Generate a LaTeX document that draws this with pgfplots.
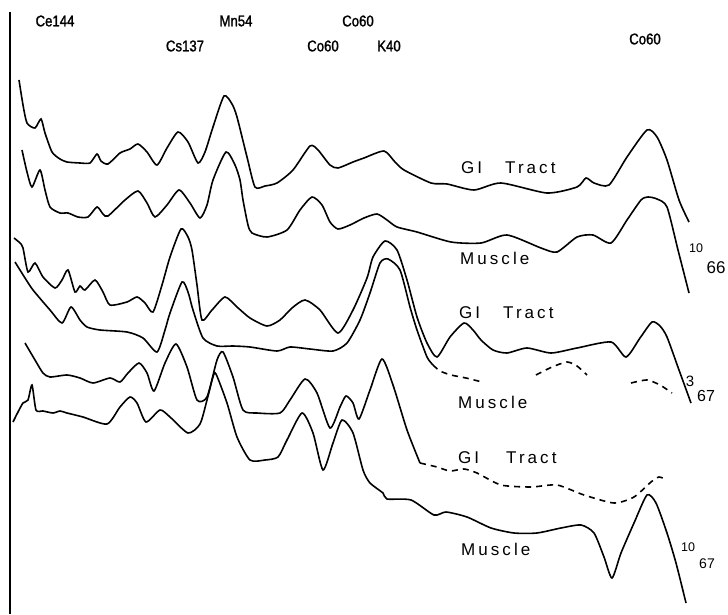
\documentclass[border=0pt]{standalone}
\usepackage{fontspec}
\setmainfont{Liberation Sans}
\newfontfamily\spaced[LetterSpace=18]{Liberation Sans}
\newfontfamily\narrow[FakeStretch=0.85,FakeBold=1.5]{Liberation Sans}
\usepackage{pgfplots}
\pgfplotsset{compat=1.18}
\begin{document}
\begin{tikzpicture}
\begin{axis}[width=728pt,height=614pt,scale only axis,axis lines=none,
  xmin=0,xmax=728,ymin=0,ymax=614,y dir=reverse,clip=false,
  cycle list={black,solid\\},no markers,
  every axis plot post/.append style={black,line width=1.6pt,smooth,tension=0.4}]
\addplot[draw=none] coordinates {(0,0) (728,614)};
% vertical axis line
\addplot[line width=2pt] coordinates {(10,12) (10,614)};
% curve 1 GI Tract 10/66
\addplot coordinates {(19,80) (23,105) (27,123) (35,128) (41,119) (45,133) (52,152) (60,159) (67,162) (80,163) (90,163) (97,154) (101,161) (108,164) (120,153) (130,149) (138,144) (147,152) (157,165) (167,148) (178,132) (188,142) (198,163) (205,152) (213,127) (224,96) (232,104) (237,117) (247,157) (255,187) (265,186) (277,183) (293,170) (310,146) (318,150) (330,165) (338,168) (353,162) (364,158) (384,151) (395,162) (404,170) (431,183) (447,184) (474,190) (501,183) (547,193) (577,187) (586,178) (594,183) (609,185) (627,157) (647,130) (657,137) (667,160) (679,200) (689,222)};
% curve 2 Muscle 10/66
\addplot coordinates {(22,150) (27,172) (32,187) (40,170) (45,190) (50,207) (60,213) (68,213) (78,217) (88,217) (97,207) (103,214) (108,216) (125,200) (138,191) (147,203) (155,217) (167,205) (179,190) (190,203) (200,218) (207,205) (213,180) (226,152) (235,165) (240,180) (243,200) (248,225) (252,233) (267,237) (287,230) (300,210) (312,197) (322,205) (330,222) (338,229) (350,225) (364,218) (377,214) (387,220) (397,227) (417,232) (451,242) (481,243) (507,235) (541,248) (557,252) (577,237) (593,235) (611,243) (627,220) (641,200) (648,197) (657,199) (667,207) (678,250) (689,293)};
% curve 3 GI Tract 3/67
\addplot coordinates {(14,238) (20,243) (23,248) (28,272) (35,263) (43,277) (55,288) (62,280) (68,270) (75,292) (80,286) (85,290) (95,280) (103,292) (110,305) (127,302) (137,297) (145,303) (153,312) (162,285) (170,257) (181,229) (188,237) (192,250) (197,285) (202,320) (212,310) (225,297) (237,307) (250,318) (267,326) (280,320) (292,308) (305,300) (320,310) (338,333) (353,310) (367,278) (373,257) (385,241) (397,250) (407,280) (417,317) (427,343) (437,357) (450,337) (464,323) (473,330) (481,340) (493,350) (507,353) (527,348) (551,353) (577,348) (611,342) (626,357) (640,338) (652,322) (660,326) (667,337) (679,370) (691,403)};
% curve 4 Muscle 3/67
\addplot coordinates {(15,262) (25,278) (33,290) (50,310) (62,323) (71,307) (80,320) (87,327) (100,330) (127,332) (143,338) (157,352) (165,330) (170,313) (182,282) (188,292) (193,310) (203,338) (217,346) (233,346) (250,347) (277,351) (290,347) (310,349) (333,351) (347,343) (360,320) (370,293) (380,263) (388,259) (400,270) (410,307) (417,330) (427,357) (433,365)};
\addplot[dash pattern=on 6pt off 5pt] coordinates {(433,365) (440,371) (451,375) (466,378) (482,382)};
\addplot[dash pattern=on 6pt off 5pt] coordinates {(536,375) (552,367) (567,362) (577,366) (587,375)};
\addplot[dash pattern=on 6pt off 5pt] coordinates {(631,383) (647,380) (660,385) (672,393)};
% curve 5 GI Tract 10/67
\addplot coordinates {(25,343) (35,360) (43,373) (50,377) (67,375) (80,378) (93,383) (110,378) (120,382) (128,373) (139,363) (147,373) (154,391) (165,363) (176,344) (187,367) (197,400) (207,397) (217,360) (223,352) (233,377) (243,410) (257,413) (280,413) (290,400) (305,379) (317,393) (330,428) (340,407) (346,396) (353,403) (359,419) (370,390) (382,359) (393,385) (407,430) (420,463)};
\addplot[dash pattern=on 6pt off 5pt] coordinates {(420,463) (437,467) (450,471) (464,469) (477,473) (501,485) (531,487) (557,485) (584,495) (614,503) (634,497) (651,482) (659,477) (667,480)};
% curve 6 Muscle 10/67
\addplot coordinates {(13,422) (18,412) (23,403) (28,400) (32,385) (36,410) (43,411) (53,413) (60,411) (67,413) (83,417) (107,424) (120,407) (130,397) (137,403) (146,422) (160,410) (170,417) (188,433) (200,424) (207,400) (213,377) (216,374) (227,403) (237,437) (250,460) (265,460) (278,457) (287,440) (302,413) (313,433) (323,470) (333,443) (342,420) (353,433) (363,470) (370,483) (383,493) (387,499) (411,500) (434,515) (446,512) (467,517) (491,528) (514,533) (537,533) (561,528) (581,525) (594,533) (604,557) (612,578) (621,553) (634,523) (647,495) (656,503) (667,533) (676,563) (686,603)};
% top labels
\begin{scope}[every node/.style={font=\narrow\fontsize{15.5}{17}\selectfont,inner sep=0pt}]
\node at (axis cs:55,21) {Ce144};
\node at (axis cs:236,21) {Mn54};
\node at (axis cs:358,21) {Co60};
\node at (axis cs:185,46) {Cs137};
\node at (axis cs:323,46) {Co60};
\node at (axis cs:389,46) {K40};
\node at (axis cs:645,39) {Co60};
\end{scope}
% curve labels
\begin{scope}[every node/.style={font=\spaced\fontsize{17}{19}\selectfont,inner sep=0pt,anchor=west}]
\node at (axis cs:461,168) {GI};
\node at (axis cs:505,168) {Tract};
\node at (axis cs:460,258) {Muscle};
\node at (axis cs:459,313) {GI};
\node at (axis cs:503,313) {Tract};
\node at (axis cs:458,402) {Muscle};
\node at (axis cs:458,458) {GI};
\node at (axis cs:506,458) {Tract};
\node at (axis cs:461,549) {Muscle};
\end{scope}
% dates
\begin{scope}[every node/.style={inner sep=0pt}]
\node[font=\fontsize{12.5}{14}\selectfont] at (axis cs:696,248) {10};
\node[font=\fontsize{17}{19}\selectfont] at (axis cs:716,268) {66};
\node[font=\fontsize{15}{17}\selectfont] at (axis cs:690,381) {3};
\node[font=\fontsize{16}{18}\selectfont] at (axis cs:706,396) {67};
\node[font=\fontsize{12.5}{14}\selectfont] at (axis cs:688,547) {10};
\node[font=\fontsize{14}{16}\selectfont] at (axis cs:707,564) {67};
\end{scope}
\end{axis}
\end{tikzpicture}
\end{document}
